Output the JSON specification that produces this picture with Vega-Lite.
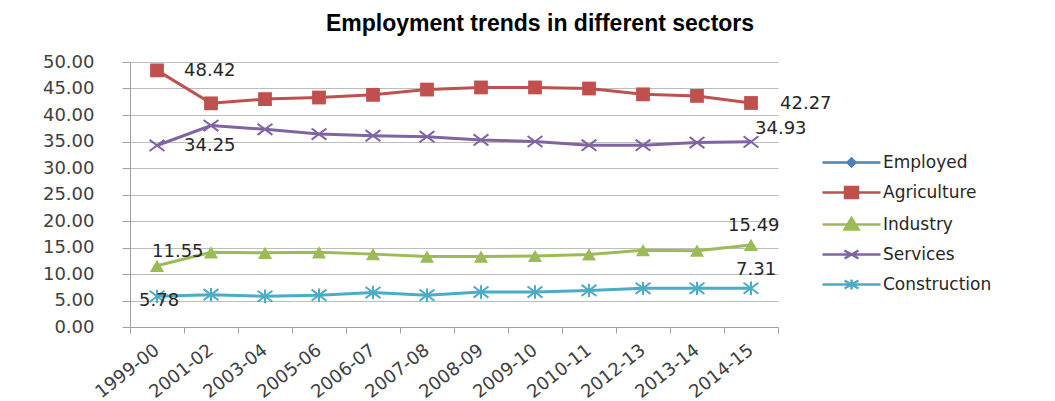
{
  "$schema": "https://vega.github.io/schema/vega-lite/v6.json",
  "width": 648,
  "height": 265,
  "autosize": "none",
  "padding": {"left": 130, "top": 62, "right": 277, "bottom": 74},
  "background": "white",
  "title": {
    "text": "Employment trends in different sectors",
    "font": "Liberation Sans",
    "fontSize": 23,
    "fontWeight": "bold",
    "color": "#000000",
    "anchor": "middle",
    "dx": 86,
    "offset": 17
  },
  "config": {
    "view": {"stroke": null},
    "font": "DejaVu Sans",
    "legend": {
      "title": null,
      "orient": "none",
      "legendX": 713,
      "legendY": 92,
      "symbolSize": 100,
      "symbolStrokeWidth": 2.5,
      "labelOffset": 23,
      "labelFont": "DejaVu Sans",
      "labelFontSize": 17,
      "labelColor": "#262626",
      "rowPadding": 10
    }
  },
  "data": {
    "values": [
      {"period": "1999-00", "sector": "Agriculture", "value": 48.42},
      {"period": "2001-02", "sector": "Agriculture", "value": 42.2},
      {"period": "2003-04", "sector": "Agriculture", "value": 43.0},
      {"period": "2005-06", "sector": "Agriculture", "value": 43.3},
      {"period": "2006-07", "sector": "Agriculture", "value": 43.8},
      {"period": "2007-08", "sector": "Agriculture", "value": 44.8},
      {"period": "2008-09", "sector": "Agriculture", "value": 45.2},
      {"period": "2009-10", "sector": "Agriculture", "value": 45.2},
      {"period": "2010-11", "sector": "Agriculture", "value": 45.0},
      {"period": "2012-13", "sector": "Agriculture", "value": 43.9},
      {"period": "2013-14", "sector": "Agriculture", "value": 43.6},
      {"period": "2014-15", "sector": "Agriculture", "value": 42.27},
      {"period": "1999-00", "sector": "Industry", "value": 11.55},
      {"period": "2001-02", "sector": "Industry", "value": 14.1},
      {"period": "2003-04", "sector": "Industry", "value": 14.0},
      {"period": "2005-06", "sector": "Industry", "value": 14.1},
      {"period": "2006-07", "sector": "Industry", "value": 13.75},
      {"period": "2007-08", "sector": "Industry", "value": 13.3},
      {"period": "2008-09", "sector": "Industry", "value": 13.3},
      {"period": "2009-10", "sector": "Industry", "value": 13.4},
      {"period": "2010-11", "sector": "Industry", "value": 13.7},
      {"period": "2012-13", "sector": "Industry", "value": 14.5},
      {"period": "2013-14", "sector": "Industry", "value": 14.4},
      {"period": "2014-15", "sector": "Industry", "value": 15.49},
      {"period": "1999-00", "sector": "Services", "value": 34.25},
      {"period": "2001-02", "sector": "Services", "value": 38.0},
      {"period": "2003-04", "sector": "Services", "value": 37.3},
      {"period": "2005-06", "sector": "Services", "value": 36.4},
      {"period": "2006-07", "sector": "Services", "value": 36.1},
      {"period": "2007-08", "sector": "Services", "value": 35.9},
      {"period": "2008-09", "sector": "Services", "value": 35.3},
      {"period": "2009-10", "sector": "Services", "value": 35.0},
      {"period": "2010-11", "sector": "Services", "value": 34.3},
      {"period": "2012-13", "sector": "Services", "value": 34.3},
      {"period": "2013-14", "sector": "Services", "value": 34.8},
      {"period": "2014-15", "sector": "Services", "value": 34.93},
      {"period": "1999-00", "sector": "Construction", "value": 5.78},
      {"period": "2001-02", "sector": "Construction", "value": 6.1},
      {"period": "2003-04", "sector": "Construction", "value": 5.8},
      {"period": "2005-06", "sector": "Construction", "value": 6.0},
      {"period": "2006-07", "sector": "Construction", "value": 6.5},
      {"period": "2007-08", "sector": "Construction", "value": 6.0},
      {"period": "2008-09", "sector": "Construction", "value": 6.6},
      {"period": "2009-10", "sector": "Construction", "value": 6.6},
      {"period": "2010-11", "sector": "Construction", "value": 6.9},
      {"period": "2012-13", "sector": "Construction", "value": 7.3},
      {"period": "2013-14", "sector": "Construction", "value": 7.3},
      {"period": "2014-15", "sector": "Construction", "value": 7.31}
    ]
  },
  "encoding": {
    "x": {
      "field": "period",
      "type": "ordinal",
      "sort": null,
      "scale": {"paddingInner": 0, "paddingOuter": 0},
      "axis": {
        "title": null,
        "labelAngle": -38,
        "labelAlign": "right",
        "labelBaseline": "middle",
        "labelFont": "DejaVu Sans",
        "labelFontSize": 18,
        "labelColor": "#404040",
        "labelPadding": 15,
        "tickBand": "extent",
        "tickSize": 6,
        "tickColor": "#a0a0a0",
        "domainColor": "#a0a0a0",
        "grid": false
      }
    },
    "y": {
      "field": "value",
      "type": "quantitative",
      "scale": {"domain": [0, 50], "nice": false},
      "axis": {
        "title": null,
        "values": [0, 5, 10, 15, 20, 25, 30, 35, 40, 45, 50],
        "format": ".2f",
        "labelFont": "DejaVu Sans",
        "labelFontSize": 18,
        "labelColor": "#404040",
        "labelPadding": 28,
        "tickSize": 8,
        "tickColor": "#a0a0a0",
        "domainColor": "#a0a0a0",
        "gridColor": "#bdbdbd",
        "gridWidth": 1
      }
    }
  },
  "layer": [
    {
      "mark": {"type": "line", "strokeWidth": 3},
      "encoding": {
        "stroke": {
          "field": "sector",
          "type": "nominal",
          "scale": {
            "domain": ["Employed", "Agriculture", "Industry", "Services", "Construction"],
            "range": ["#4f81bd", "#c0504d", "#9bbb59", "#8064a2", "#4bacc6"]
          }
        }
      }
    },
    {
      "transform": [{"filter": "datum.sector == 'Agriculture'"}],
      "mark": {"type": "point", "shape": "square", "filled": true, "color": "#c0504d", "size": 190, "opacity": 1}
    },
    {
      "transform": [{"filter": "datum.sector == 'Industry'"}],
      "mark": {"type": "point", "shape": "triangle-up", "filled": true, "color": "#9bbb59", "size": 200, "opacity": 1}
    },
    {
      "transform": [{"filter": "datum.sector == 'Services'"}],
      "mark": {"type": "point", "shape": "M-1,-0.75L1,0.75M-1,0.75L1,-0.75", "filled": false, "color": "#8064a2", "size": 220, "strokeWidth": 2, "opacity": 1}
    },
    {
      "transform": [{"filter": "datum.sector == 'Construction'"}],
      "mark": {"type": "point", "shape": "M-1,-0.75L1,0.75M-1,0.75L1,-0.75M0,-0.9L0,0.9", "filled": false, "color": "#4bacc6", "size": 220, "strokeWidth": 2, "opacity": 1}
    },
    {
      "transform": [{"filter": "datum.period == '1999-00' && (datum.sector == 'Agriculture' || datum.sector == 'Services')"}],
      "mark": {"type": "text", "align": "left", "baseline": "middle", "dx": 27, "dy": 1, "fontSize": 18, "color": "#262626"},
      "encoding": {"text": {"field": "value", "type": "quantitative", "format": ".2f"}}
    },
    {
      "transform": [{"filter": "datum.period == '1999-00' && datum.sector == 'Industry'"}],
      "mark": {"type": "text", "align": "left", "baseline": "middle", "dx": -5, "dy": -14, "fontSize": 18, "color": "#262626"},
      "encoding": {"text": {"field": "value", "type": "quantitative", "format": ".2f"}}
    },
    {
      "transform": [{"filter": "datum.period == '1999-00' && datum.sector == 'Construction'"}],
      "mark": {"type": "text", "align": "left", "baseline": "middle", "dx": -18, "dy": 5, "fontSize": 18, "color": "#262626"},
      "encoding": {"text": {"field": "value", "type": "quantitative", "format": ".2f"}}
    },
    {
      "transform": [{"filter": "datum.period == '2014-15' && datum.sector == 'Agriculture'"}],
      "mark": {"type": "text", "align": "left", "baseline": "middle", "dx": 29, "dy": 1, "fontSize": 18, "color": "#262626"},
      "encoding": {"text": {"field": "value", "type": "quantitative", "format": ".2f"}}
    },
    {
      "transform": [{"filter": "datum.period == '2014-15' && datum.sector == 'Services'"}],
      "mark": {"type": "text", "align": "left", "baseline": "middle", "dx": 4, "dy": -13, "fontSize": 18, "color": "#262626"},
      "encoding": {"text": {"field": "value", "type": "quantitative", "format": ".2f"}}
    },
    {
      "transform": [{"filter": "datum.period == '2014-15' && datum.sector == 'Industry'"}],
      "mark": {"type": "text", "align": "left", "baseline": "middle", "dx": -23, "dy": -19, "fontSize": 18, "color": "#262626"},
      "encoding": {"text": {"field": "value", "type": "quantitative", "format": ".2f"}}
    },
    {
      "transform": [{"filter": "datum.period == '2014-15' && datum.sector == 'Construction'"}],
      "mark": {"type": "text", "align": "left", "baseline": "middle", "dx": -15, "dy": -18, "fontSize": 18, "color": "#262626"},
      "encoding": {"text": {"field": "value", "type": "quantitative", "format": ".2f"}}
    },
    {
      "transform": [{"filter": "false"}],
      "mark": {"type": "point", "filled": true, "opacity": 1, "strokeWidth": 2.5},
      "encoding": {
        "shape": {
          "field": "sector",
          "type": "nominal",
          "scale": {
            "domain": ["Employed", "Agriculture", "Industry", "Services", "Construction"],
            "range": [
              "M-5.8,0L5.8,0M0,-0.8L0.8,0L0,0.8L-0.8,0Z",
              "M-5.8,0L5.8,0M-1.3,-1.1L1.3,-1.1L1.3,1.1L-1.3,1.1Z",
              "M-5.8,0L5.8,0M0,-1.3L1.4,1L-1.4,1Z",
              "M-5.8,0L5.8,0M-1.4,-0.8L1.4,0.8M-1.4,0.8L1.4,-0.8",
              "M-5.8,0L5.8,0M-1.4,-0.8L1.4,0.8M-1.4,0.8L1.4,-0.8M0,-1L0,1"
            ]
          }
        },
        "stroke": {
          "field": "sector",
          "type": "nominal",
          "scale": {
            "domain": ["Employed", "Agriculture", "Industry", "Services", "Construction"],
            "range": ["#4f81bd", "#c0504d", "#9bbb59", "#8064a2", "#4bacc6"]
          }
        },
        "color": {
          "field": "sector",
          "type": "nominal",
          "scale": {
            "domain": ["Employed", "Agriculture", "Industry", "Services", "Construction"],
            "range": ["#4f81bd", "#c0504d", "#9bbb59", "#8064a2", "#4bacc6"]
          }
        }
      }
    }
  ]
}
